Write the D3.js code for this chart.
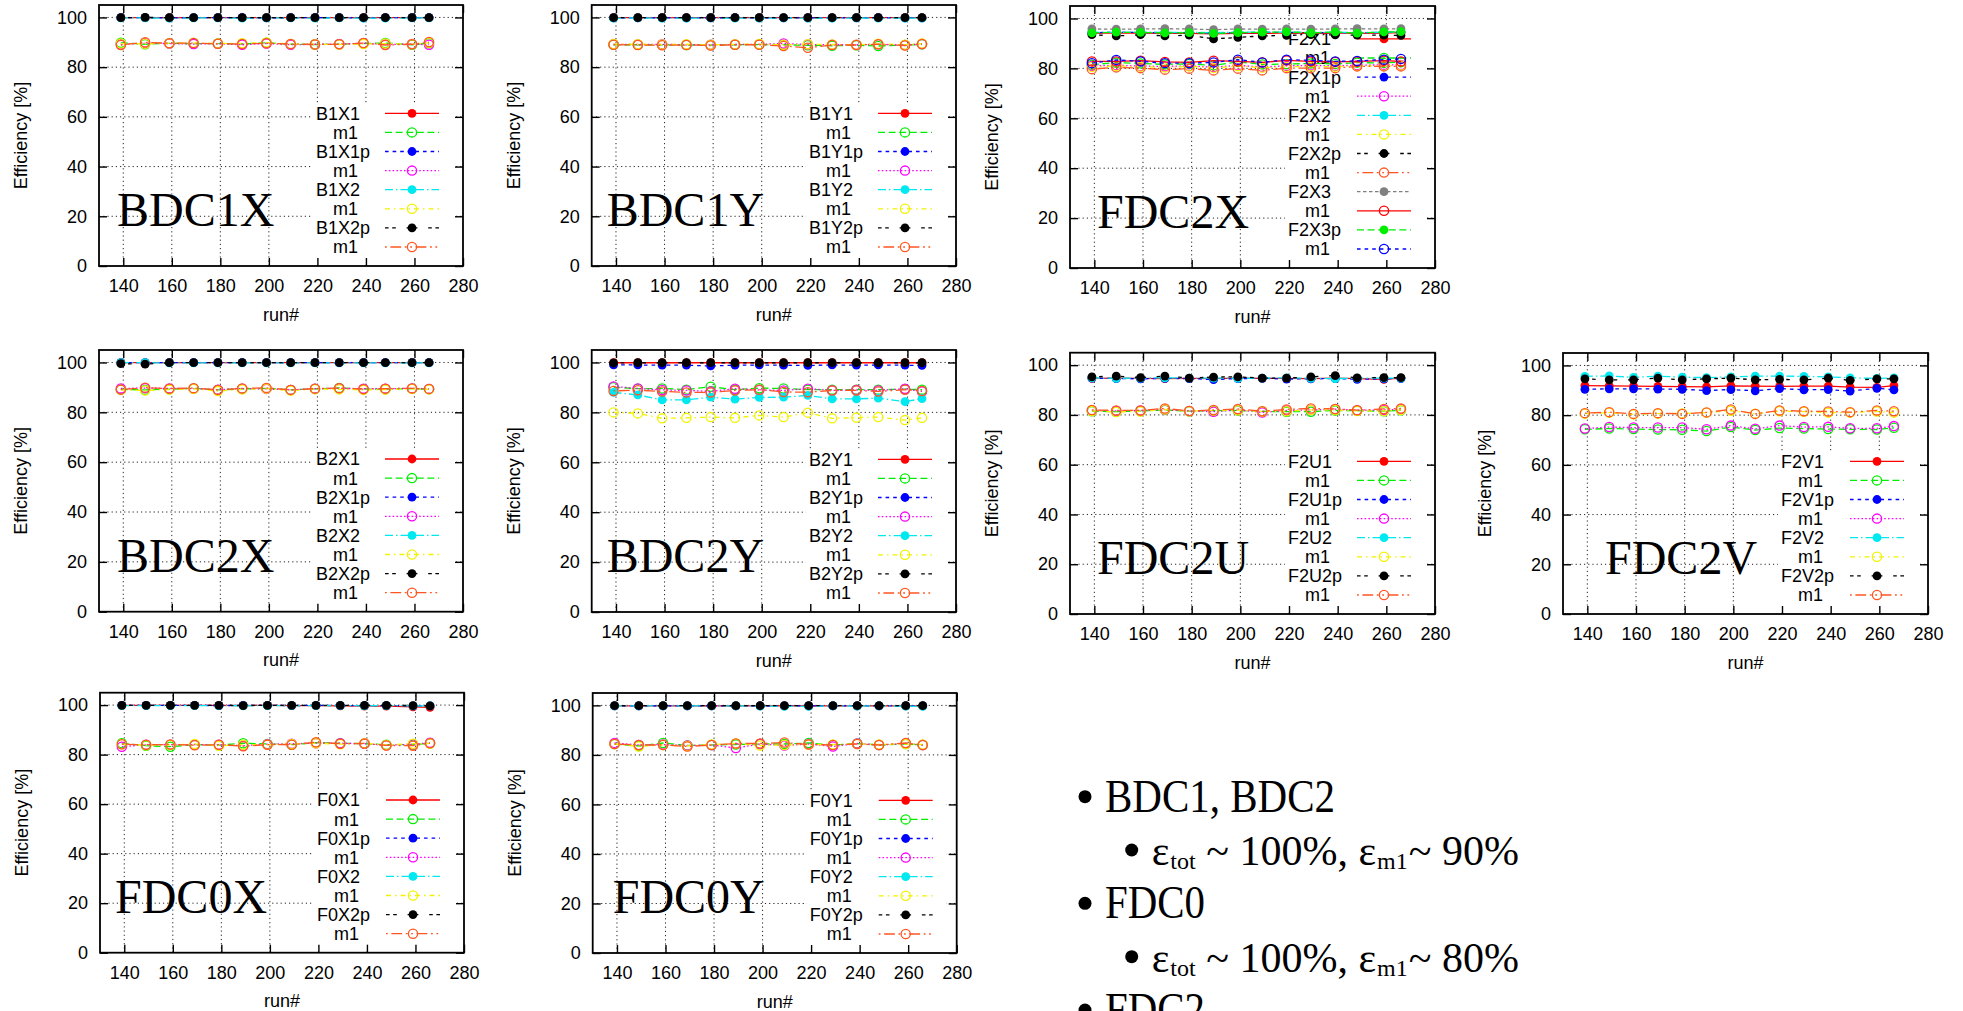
<!DOCTYPE html>
<html>
<head>
<meta charset="utf-8">
<script src="https://cdn.jsdelivr.net/npm/d3@7"></script>
<style>
  html, body { margin: 0; padding: 0; background: #fff; overflow: hidden; }
</style>
</head>
<body>
<script>
// ---------------- DATA ----------------
const runs = [139, 149, 159, 169, 179, 189, 199, 209, 219, 229, 239, 248, 259, 266];
const xTickValues = [140, 160, 180, 200, 220, 240, 260, 280];
const yTickValues = [0, 20, 40, 60, 80, 100];
const xDomain = [130, 280];
const yDomain = [0, 105];
const xTitle = "run#";
const yTitle = "Efficiency [%]";

const BDC1X_series = ["B1X1", "m1", "B1X1p", "m1", "B1X2", "m1", "B1X2p", "m1"];
const BDC1X_values = [
  [99.9, 99.9, 99.9, 99.9, 99.9, 99.9, 99.9, 99.9, 99.9, 99.9, 99.9, 99.9, 99.9, 99.9],
  [89.8, 89.2, 89.6, 89.4, 89.5, 89.3, 89.8, 89.2, 89.1, 89.2, 89.5, 89.7, 89.0, 89.6],
  [99.9, 99.9, 99.8, 99.9, 99.9, 99.9, 99.8, 99.9, 99.9, 99.9, 99.8, 99.9, 99.9, 99.9],
  [89.2, 89.6, 89.5, 89.3, 89.4, 89.0, 89.5, 89.0, 89.2, 89.3, 89.6, 89.1, 89.3, 89.0],
  [99.8, 99.8, 99.7, 99.8, 99.8, 99.7, 99.8, 99.8, 99.7, 99.8, 99.7, 99.7, 99.8, 99.8],
  [89.5, 89.4, 89.6, 89.8, 89.5, 89.6, 89.9, 89.3, 89.2, 89.1, 89.3, 89.5, 89.2, 89.8],
  [99.9, 100.0, 99.9, 99.9, 99.9, 99.9, 99.9, 99.9, 99.9, 99.9, 99.9, 99.9, 99.9, 99.9],
  [88.9, 90.0, 89.6, 89.7, 89.4, 89.3, 89.6, 89.3, 89.1, 89.2, 89.7, 88.9, 89.2, 90.1]
];

const BDC1Y_series = ["B1Y1", "m1", "B1Y1p", "m1", "B1Y2", "m1", "B1Y2p", "m1"];
const BDC1Y_values = [
  [99.9, 99.9, 99.9, 99.9, 99.9, 99.9, 99.9, 99.9, 99.9, 99.9, 99.9, 99.9, 99.9, 99.9],
  [89.0, 89.0, 89.0, 88.9, 88.9, 89.0, 89.1, 89.0, 88.8, 88.6, 88.8, 88.5, 88.9, 89.2],
  [99.8, 99.8, 99.8, 99.8, 99.8, 99.9, 99.8, 99.8, 99.8, 99.8, 99.8, 99.9, 99.8, 99.8],
  [89.2, 89.1, 89.2, 89.0, 89.0, 89.1, 89.2, 89.5, 89.1, 89.0, 89.0, 89.2, 88.9, 89.3],
  [99.7, 99.8, 99.7, 99.7, 99.8, 99.7, 99.7, 99.8, 99.7, 99.7, 99.8, 99.7, 99.7, 99.7],
  [89.3, 89.2, 89.1, 89.2, 89.0, 89.2, 89.3, 89.0, 89.2, 89.1, 89.0, 89.4, 89.0, 89.5],
  [99.9, 99.9, 99.9, 99.9, 99.9, 99.9, 99.9, 99.9, 99.9, 99.9, 99.9, 99.9, 99.9, 99.9],
  [89.0, 88.9, 88.8, 88.9, 88.7, 89.0, 89.0, 88.5, 87.8, 88.9, 88.9, 89.2, 88.7, 89.3]
];

const FDC2X_series = ["F2X1", "m1", "F2X1p", "m1", "F2X2", "m1", "F2X2p", "m1", "F2X3", "m1", "F2X3p", "m1"];
const FDC2X_values = [
  [94.0, 94.2, 94.1, 94.0, 94.0, 93.8, 94.0, 94.0, 94.2, 94.0, 94.1, 94.0, 94.1, 94.3],
  [81.5, 82.3, 82.0, 81.6, 81.8, 81.2, 82.6, 81.6, 81.7, 82.0, 81.8, 82.3, 82.2, 82.5],
  [94.3, 94.5, 94.4, 94.3, 94.3, 94.2, 94.3, 94.4, 94.5, 94.2, 94.4, 94.3, 94.4, 94.5],
  [81.0, 81.3, 80.9, 80.8, 81.0, 80.5, 81.2, 80.6, 81.0, 81.2, 81.0, 81.3, 81.4, 81.4],
  [94.5, 94.4, 94.6, 94.4, 94.5, 94.3, 94.6, 94.5, 94.6, 94.4, 94.5, 94.3, 94.5, 94.6],
  [80.6, 81.0, 80.7, 80.4, 80.8, 80.2, 80.9, 80.3, 80.6, 80.8, 80.7, 81.0, 81.0, 81.2],
  [93.5, 93.0, 93.5, 93.0, 93.3, 91.8, 92.4, 93.0, 93.2, 93.5, 93.4, 93.3, 93.3, 93.2],
  [79.7, 80.4, 80.1, 79.5, 79.9, 79.2, 79.9, 79.2, 80.1, 80.1, 80.1, 80.8, 80.8, 80.8],
  [95.8, 95.7, 95.8, 95.9, 95.8, 95.5, 95.8, 95.7, 95.8, 95.7, 95.8, 95.9, 95.8, 95.9],
  [82.8, 82.8, 83.1, 82.6, 82.4, 83.1, 82.8, 82.4, 83.2, 82.8, 82.6, 82.8, 83.1, 82.8],
  [94.2, 94.5, 94.4, 94.2, 94.3, 94.0, 94.3, 94.5, 94.6, 94.2, 94.6, 94.1, 94.6, 94.7],
  [82.1, 83.4, 82.8, 82.1, 82.1, 82.4, 83.5, 82.4, 83.5, 83.2, 82.8, 83.0, 83.5, 83.8]
];

const BDC2X_series = ["B2X1", "m1", "B2X1p", "m1", "B2X2", "m1", "B2X2p", "m1"];
const BDC2X_values = [
  [99.9, 99.9, 99.9, 99.9, 99.9, 99.9, 99.9, 99.9, 99.9, 99.9, 99.9, 99.9, 99.9, 99.9],
  [89.2, 89.0, 89.3, 89.6, 89.0, 89.4, 89.6, 89.0, 89.4, 89.8, 89.3, 89.3, 89.5, 89.3],
  [99.9, 99.9, 99.9, 99.9, 99.9, 99.9, 99.9, 99.9, 99.9, 99.9, 99.9, 99.9, 99.9, 99.9],
  [89.6, 89.7, 89.6, 89.5, 89.1, 89.5, 89.4, 89.0, 89.5, 89.6, 89.5, 89.5, 89.6, 89.4],
  [99.9, 99.9, 99.8, 99.8, 99.8, 99.8, 99.8, 99.8, 99.8, 99.8, 99.8, 99.8, 99.8, 99.8],
  [89.0, 88.8, 89.1, 89.4, 88.5, 89.2, 89.5, 88.7, 89.3, 89.2, 89.0, 89.1, 89.4, 89.2],
  [99.5, 99.3, 99.9, 99.9, 99.9, 99.9, 99.9, 99.9, 99.9, 99.9, 99.9, 99.9, 99.9, 99.9],
  [89.1, 89.9, 89.5, 89.7, 89.0, 89.6, 89.8, 89.0, 89.5, 89.7, 89.3, 89.5, 89.6, 89.4]
];

const BDC2Y_series = ["B2Y1", "m1", "B2Y1p", "m1", "B2Y2", "m1", "B2Y2p", "m1"];
const BDC2Y_values = [
  [99.9, 99.9, 99.9, 99.9, 99.9, 99.9, 99.9, 99.9, 99.9, 99.9, 99.9, 99.9, 99.9, 99.9],
  [90.1, 89.5, 89.6, 89.1, 90.3, 89.1, 89.7, 89.6, 89.1, 89.1, 89.1, 89.1, 89.3, 89.1],
  [99.0, 99.0, 98.9, 98.9, 98.6, 98.9, 99.0, 98.9, 98.8, 99.0, 98.9, 99.0, 98.9, 98.8],
  [90.4, 89.6, 89.0, 88.8, 88.4, 89.5, 89.0, 88.8, 89.5, 88.8, 89.0, 88.8, 89.5, 88.4],
  [88.0, 87.0, 85.0, 85.0, 86.1, 85.3, 86.0, 86.1, 86.8, 85.4, 85.4, 85.7, 84.3, 85.5],
  [80.0, 79.6, 77.6, 77.8, 78.1, 77.8, 78.8, 78.1, 79.9, 77.6, 77.9, 78.1, 76.9, 77.8],
  [99.8, 99.9, 99.9, 99.9, 99.9, 99.9, 99.9, 99.9, 99.9, 99.9, 99.9, 99.9, 99.9, 99.9],
  [88.6, 88.9, 88.4, 88.0, 88.0, 88.8, 89.1, 88.2, 88.1, 88.8, 88.8, 88.4, 89.1, 88.6]
];

const FDC2U_series = ["F2U1", "m1", "F2U1p", "m1", "F2U2", "m1", "F2U2p", "m1"];
const FDC2U_values = [
  [94.7, 94.8, 94.7, 94.6, 94.7, 94.6, 94.8, 94.7, 94.7, 94.6, 94.8, 94.6, 94.3, 94.8],
  [81.5, 81.3, 81.6, 82.0, 81.5, 81.7, 81.8, 81.4, 81.3, 81.3, 81.8, 81.7, 81.5, 81.9],
  [94.8, 94.6, 94.5, 94.7, 94.6, 94.2, 94.6, 94.7, 94.4, 94.5, 94.6, 94.3, 94.5, 94.6],
  [81.8, 81.6, 81.8, 82.1, 81.6, 81.3, 82.0, 81.0, 81.8, 82.0, 82.3, 81.9, 82.0, 82.3],
  [94.9, 94.7, 94.8, 94.9, 94.8, 94.8, 94.7, 94.8, 94.9, 94.7, 94.6, 94.8, 94.8, 94.8],
  [81.6, 81.2, 81.4, 82.2, 81.5, 81.8, 81.9, 81.4, 81.5, 82.0, 82.0, 81.6, 81.6, 82.0],
  [95.3, 95.6, 95.0, 95.6, 94.8, 95.2, 95.3, 94.8, 94.8, 95.3, 95.8, 94.9, 95.0, 95.0],
  [82.0, 81.8, 81.8, 82.6, 81.6, 82.0, 82.4, 81.5, 82.2, 82.6, 82.4, 81.9, 82.4, 82.6]
];

const FDC2V_series = ["F2V1", "m1", "F2V1p", "m1", "F2V2", "m1", "F2V2p", "m1"];
const FDC2V_values = [
  [91.9, 91.8, 91.7, 91.6, 91.5, 91.4, 91.8, 91.7, 91.6, 91.7, 91.7, 91.3, 91.2, 91.9],
  [74.3, 74.6, 74.4, 74.2, 74.1, 73.6, 75.2, 74.0, 74.8, 74.6, 74.4, 74.3, 74.2, 74.9],
  [90.4, 90.6, 90.6, 90.5, 90.4, 89.9, 90.3, 89.8, 90.7, 90.2, 90.3, 89.7, 90.8, 90.2],
  [74.6, 75.2, 75.0, 75.0, 75.0, 74.3, 75.8, 74.5, 75.8, 75.2, 75.3, 74.7, 74.7, 75.6],
  [95.6, 95.8, 95.2, 95.7, 95.3, 95.1, 95.4, 95.7, 95.7, 95.6, 95.4, 95.0, 94.8, 95.0],
  [80.6, 81.0, 80.3, 80.6, 80.7, 81.0, 81.8, 80.6, 81.6, 81.4, 81.0, 81.0, 81.5, 81.0],
  [94.6, 94.2, 94.2, 94.9, 94.2, 94.6, 94.9, 94.2, 94.4, 94.2, 94.9, 94.0, 94.6, 94.6],
  [80.8, 81.2, 80.5, 80.8, 80.5, 81.1, 82.3, 80.5, 81.9, 81.6, 81.5, 81.2, 81.9, 81.6]
];

const FDC0X_series = ["F0X1", "m1", "F0X1p", "m1", "F0X2", "m1", "F0X2p", "m1"];
const FDC0X_values = [
  [99.9, 99.9, 99.9, 99.9, 99.9, 99.8, 99.9, 99.8, 99.8, 99.7, 99.6, 99.6, 99.3, 99.1],
  [84.6, 83.6, 83.2, 84.0, 83.8, 84.6, 84.3, 84.0, 84.8, 84.6, 84.4, 84.0, 84.0, 84.6],
  [99.9, 99.9, 99.9, 99.9, 99.8, 99.9, 99.9, 99.8, 99.9, 99.8, 99.8, 99.8, 99.7, 99.7],
  [83.2, 84.0, 84.0, 84.0, 84.0, 83.6, 84.2, 84.4, 84.6, 84.6, 84.4, 83.8, 84.2, 84.8],
  [99.8, 99.8, 99.8, 99.8, 99.8, 99.7, 99.8, 99.8, 99.8, 99.8, 99.7, 99.8, 99.7, 99.7],
  [84.2, 83.8, 83.9, 84.3, 83.6, 84.0, 84.0, 84.3, 84.6, 84.2, 84.6, 83.9, 84.4, 84.5],
  [99.9, 99.9, 99.9, 99.9, 99.9, 99.8, 99.9, 99.9, 99.9, 99.9, 99.9, 99.9, 99.8, 99.7],
  [84.2, 84.0, 84.1, 83.8, 84.0, 83.4, 84.0, 84.0, 85.0, 84.4, 84.5, 83.7, 83.6, 84.6]
];

const FDC0Y_series = ["F0Y1", "m1", "F0Y1p", "m1", "F0Y2", "m1", "F0Y2p", "m1"];
const FDC0Y_values = [
  [99.8, 99.8, 99.8, 99.8, 99.8, 99.8, 99.8, 99.8, 99.8, 99.8, 99.8, 99.8, 99.8, 99.8],
  [84.4, 83.6, 84.8, 83.8, 84.0, 84.2, 84.4, 84.4, 84.8, 84.0, 84.6, 84.0, 84.4, 84.0],
  [99.8, 99.8, 99.8, 99.8, 99.8, 99.8, 99.8, 99.8, 99.8, 99.8, 99.8, 99.8, 99.8, 99.8],
  [84.8, 84.0, 84.2, 83.8, 84.0, 82.8, 84.4, 83.8, 84.4, 83.4, 84.6, 84.0, 84.6, 84.0],
  [99.8, 99.8, 99.8, 99.8, 99.8, 99.8, 99.7, 99.6, 99.6, 99.8, 99.7, 99.8, 99.7, 99.6],
  [84.4, 83.4, 84.0, 83.6, 84.2, 84.6, 83.8, 84.0, 84.2, 84.2, 84.4, 84.2, 84.4, 84.2],
  [99.9, 99.9, 99.9, 99.9, 99.9, 99.9, 99.9, 99.9, 99.9, 99.9, 99.9, 99.9, 99.9, 99.9],
  [84.4, 84.0, 84.0, 83.4, 84.0, 84.6, 84.6, 85.0, 84.2, 84.0, 84.4, 84.0, 84.8, 84.0]
];

// Summary text
const summaryLevel1 = ["BDC1, BDC2", "FDC0", "FDC2"];
const summaryLevel2 = [
  {tot: "100%", m1: "90%"},
  {tot: "100%", m1: "80%"}
];

// ---------------- STYLES / LAYOUT ----------------
const seriesStyles = [
  {color: "#ff0000", dash: null, filled: true},
  {color: "#00ee00", dash: "7,3.6", filled: false},
  {color: "#0000ff", dash: "3.6,4", filled: true},
  {color: "#ff00ff", dash: "1.6,2.2", filled: false},
  {color: "#00e8f0", dash: "8,3,1.5,3", filled: true},
  {color: "#f2f200", dash: "5,4,1.5,4", filled: false},
  {color: "#000000", dash: "3.6,3.6,3.6,10.8", filled: true},
  {color: "#ff5522", dash: "1.8,3.6,10.8,3.6,1.8,3.6", filled: false},
  {color: "#808080", dash: "3.5,2.5", filled: true},
  {color: "#ff0000", dash: null, filled: false},
  {color: "#00ee00", dash: "7,3.6", filled: true},
  {color: "#0000ff", dash: "3.6,4", filled: false}
];

const panels = [
  {tag: "BDC1X", series: BDC1X_series, values: BDC1X_values, L: 99, R: 463, T: 5, B: 266, tagDx: 18},
  {tag: "BDC1Y", series: BDC1Y_series, values: BDC1Y_values, L: 591.7, R: 956, T: 5, B: 266, tagDx: 15},
  {tag: "FDC2X", series: FDC2X_series, values: FDC2X_values, L: 1070, R: 1435, T: 6, B: 268, tagDx: 27},
  {tag: "BDC2X", series: BDC2X_series, values: BDC2X_values, L: 99, R: 463, T: 350, B: 611.7, tagDx: 18},
  {tag: "BDC2Y", series: BDC2Y_series, values: BDC2Y_values, L: 591.7, R: 956, T: 350, B: 612, tagDx: 15},
  {tag: "FDC2U", series: FDC2U_series, values: FDC2U_values, L: 1070, R: 1435, T: 352.7, B: 614, tagDx: 27},
  {tag: "FDC2V", series: FDC2V_series, values: FDC2V_values, L: 1563, R: 1928, T: 353, B: 614, tagDx: 42},
  {tag: "FDC0X", series: FDC0X_series, values: FDC0X_values, L: 100, R: 464, T: 692.7, B: 952.7, tagDx: 15},
  {tag: "FDC0Y", series: FDC0Y_series, values: FDC0Y_values, L: 592.7, R: 956.7, T: 693, B: 953, tagDx: 20}
];

const SANS = "'Liberation Sans', Arial, Helvetica, sans-serif";
const SERIF = "'Liberation Serif', 'Times New Roman', Times, serif";

const W = 1963, H = 1011;
const svg = d3.select("body").append("svg")
  .attr("width", W).attr("height", H)
  .attr("viewBox", `0 0 ${W} ${H}`);
svg.append("rect").attr("width", W).attr("height", H).attr("fill", "#fff");

function drawMarker(sel, style, cx, cy) {
  if (style.filled) {
    sel.append("circle").attr("cx", cx).attr("cy", cy).attr("r", 4.4)
      .attr("fill", style.color).attr("stroke", "none");
  } else {
    sel.append("circle").attr("cx", cx).attr("cy", cy).attr("r", 4.6)
      .attr("fill", "none").attr("stroke", style.color).attr("stroke-width", 1.3);
  }
}

function drawPanel(p) {
  const g = svg.append("g").attr("class", "panel");
  const x = d3.scaleLinear().domain(xDomain).range([p.L, p.R]);
  const y = d3.scaleLinear().domain(yDomain).range([p.B, p.T]);

  // grid
  const grid = g.append("g").attr("stroke", "#000").attr("stroke-width", 1)
    .attr("stroke-dasharray", "1.2,3").attr("opacity", 0.85);
  grid.selectAll("line.gx").data(xTickValues.filter(v => v > xDomain[0] && v < xDomain[1])).join("line")
    .attr("class", "gx")
    .attr("x1", d => x(d)).attr("x2", d => x(d)).attr("y1", p.B).attr("y2", p.T);
  grid.selectAll("line.gy").data(yTickValues.filter(v => v > yDomain[0] && v < yDomain[1])).join("line")
    .attr("class", "gy")
    .attr("y1", d => y(d)).attr("y2", d => y(d)).attr("x1", p.L).attr("x2", p.R);

  // legend box (opaque, hides grid)
  const n = p.series.length;
  const step = 19.1;
  const firstY = p.B - 19 - (n - 1) * step;
  g.append("rect")
    .attr("x", p.R - 150).attr("y", firstY - 10)
    .attr("width", 140).attr("height", (p.B - 2) - (firstY - 10))
    .attr("fill", "#fff");

  // axes (ticks inward, mirrored)
  const styleAxis = sel => {
    sel.select(".domain").remove();
    sel.selectAll(".tick line").attr("stroke", "#000").attr("stroke-width", 1.4);
    sel.selectAll(".tick text").attr("fill", "#000");
    sel.attr("font-family", SANS).attr("font-size", 18);
  };
  g.append("g").attr("transform", `translate(0,${p.B})`)
    .call(d3.axisBottom(x).tickValues(xTickValues).tickSizeInner(-8).tickSizeOuter(0).tickPadding(13.5))
    .call(styleAxis);
  g.append("g").attr("transform", `translate(0,${p.T})`)
    .call(d3.axisTop(x).tickValues(xTickValues).tickSizeInner(-8).tickSizeOuter(0).tickFormat(""))
    .call(styleAxis);
  g.append("g").attr("transform", `translate(${p.L},0)`)
    .call(d3.axisLeft(y).tickValues(yTickValues).tickSizeInner(-8).tickSizeOuter(0).tickPadding(12))
    .call(styleAxis);
  g.append("g").attr("transform", `translate(${p.R},0)`)
    .call(d3.axisRight(y).tickValues(yTickValues).tickSizeInner(-8).tickSizeOuter(0).tickFormat(""))
    .call(styleAxis);

  // axis titles
  g.append("text")
    .attr("x", (p.L + p.R) / 2).attr("y", p.B + 54.5)
    .attr("text-anchor", "middle").attr("font-family", SANS).attr("font-size", 18)
    .text(xTitle);
  g.append("text")
    .attr("transform", `translate(${p.L - 72},${(p.T + p.B) / 2}) rotate(-90)`)
    .attr("text-anchor", "middle").attr("font-family", SANS).attr("font-size", 18)
    .text(yTitle);

  // big tag label
  g.append("text")
    .attr("x", p.L + p.tagDx).attr("y", p.B - 40)
    .attr("font-family", SERIF).attr("font-size", 48)
    .text(p.tag);

  // legend entries
  const leg = g.append("g");
  p.series.forEach((name, i) => {
    const st = seriesStyles[i % seriesStyles.length];
    const yy = firstY + i * step;
    leg.append("text")
      .attr("x", name === "m1" ? p.R - 130 : p.R - 147).attr("y", yy).attr("dy", "0.36em")
      .attr("font-family", SANS).attr("font-size", 18).text(name);
    leg.append("line")
      .attr("x1", p.R - 78).attr("x2", p.R - 24).attr("y1", yy).attr("y2", yy)
      .attr("stroke", st.color).attr("stroke-width", 1.3)
      .attr("stroke-dasharray", st.dash);
    drawMarker(leg, st, p.R - 51, yy);
  });

  // data
  const line = d3.line().x((d, j) => x(runs[j])).y(d => y(d));
  p.values.forEach((vals, i) => {
    const st = seriesStyles[i % seriesStyles.length];
    const sg = g.append("g");
    sg.append("path").datum(vals).attr("d", line)
      .attr("fill", "none").attr("stroke", st.color).attr("stroke-width", 1.3)
      .attr("stroke-dasharray", st.dash);
    vals.forEach((v, j) => drawMarker(sg, st, x(runs[j]), y(v)));
  });

  // frame
  g.append("rect").attr("x", p.L).attr("y", p.T)
    .attr("width", p.R - p.L).attr("height", p.B - p.T)
    .attr("fill", "none").attr("stroke", "#000").attr("stroke-width", 1.8);
}

panels.forEach(drawPanel);

// ---------------- SUMMARY TEXT ----------------
const sumG = svg.append("g").attr("font-family", SERIF).attr("fill", "#000");
const lvl1Base = [811.7, 918.3, 1025];
const lvl1Len = [230, 100, 100];
summaryLevel1.forEach((t, i) => {
  sumG.append("circle").attr("cx", 1085).attr("cy", lvl1Base[i] - 15).attr("r", 6.5);
  sumG.append("text").attr("x", 1105).attr("y", lvl1Base[i])
    .attr("font-size", 47).attr("textLength", lvl1Len[i]).attr("lengthAdjust", "spacingAndGlyphs")
    .text(t);
});
const lvl2Base = [865, 971.7];
summaryLevel2.forEach((d, i) => {
  const yb = lvl2Base[i];
  sumG.append("circle").attr("cx", 1131.7).attr("cy", yb - 15).attr("r", 6.5);
  const t = sumG.append("text").attr("x", 1151.7).attr("y", yb).attr("font-size", 42);
  t.append("tspan").text("ε");
  t.append("tspan").attr("font-size", 24).attr("dy", 4).attr("dx", 1).text("tot");
  t.append("tspan").attr("dy", -4).text(" ~ " + d.tot + ", ");
  t.append("tspan").text("ε");
  t.append("tspan").attr("font-size", 24).attr("dy", 4).attr("dx", 1).text("m1");
  t.append("tspan").attr("dy", -4).attr("dx", 1).text("~ " + d.m1);
});
</script>
</body>
</html>
